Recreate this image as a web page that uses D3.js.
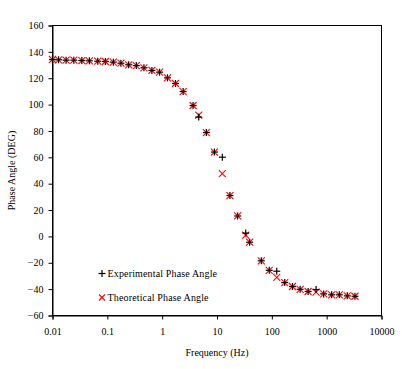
<!DOCTYPE html>
<html>
<head>
<meta charset="utf-8">
<script src="https://cdn.jsdelivr.net/npm/d3@7"></script>
<style>
  body { margin: 0; background: #fff; }
  svg text { font-family: "Liberation Serif", "Times New Roman", serif; font-size: 10px; fill: #000; }
</style>
</head>
<body>
<div id="chart"></div>
<script>
// Frequency (Hz) of each measurement
var freqs = [0.01, 0.0129, 0.0177, 0.0245, 0.0343, 0.047, 0.0669, 0.092, 0.1285, 0.177,
  0.245, 0.337, 0.465, 0.65, 0.897, 1.25, 1.75, 2.41, 3.66, 4.65,
  6.4, 8.97, 12.5, 17.2, 23.8, 33.4, 39.4, 64.2, 89.7, 123,
  172, 238, 328, 459, 641, 882, 1233, 1701, 2378, 3283];

var experimental = [134.2, 134.0, 133.7, 133.7, 133.4, 133.2, 132.9, 132.7, 132.2, 131.4,
  130.2, 129.6, 127.9, 125.9, 124.6, 120.3, 116.0, 109.9, 99.3, 90.5,
  78.8, 64.0, 60.1, 31.0, 15.5, 2.5, -4.4, -18.5, -25.7, -26.4,
  -35.0, -38.0, -40.1, -41.8, -40.3, -43.6, -44.3, -44.3, -45.1, -45.4];

var theoretical = [134.2, 134.0, 133.7, 133.7, 133.4, 133.2, 132.9, 132.7, 132.2, 131.4,
  130.2, 129.6, 127.9, 125.9, 124.6, 120.3, 116.0, 109.9, 99.3, 92.0,
  78.8, 64.0, 47.7, 31.0, 15.5, 1.0, -4.4, -18.5, -25.7, -31.0,
  -35.0, -38.0, -40.1, -41.8, -42.3, -43.6, -44.3, -44.3, -45.1, -45.4];

var xTicks = [0.01, 0.1, 1, 10, 100, 1000, 10000];
var yTicks = [-60, -40, -20, 0, 20, 40, 60, 80, 100, 120, 140, 160];

var margin = { top: 25, right: 21, bottom: 54, left: 52 };
var width = 402 - margin.left - margin.right;
var height = 369 - margin.top - margin.bottom;

var svg = d3.select('#chart')
  .append('svg')
  .attr('width', 402)
  .attr('height', 369)
  .append('g')
  .attr('transform', 'translate(' + (margin.left + 0.5) + ',' + (margin.top + 0.5) + ')');

//Scales
var x = d3.scaleLog()
  .domain([0.01, 10000])
  .range([0, width]);

var y = d3.scaleLinear()
  .domain([-60, 160])
  .range([height, 0]);

//Box around the plot area
svg.append('rect')
  .attr('width', width)
  .attr('height', height)
  .attr('fill', 'none')
  .attr('stroke', '#000')
  .attr('stroke-width', 1);

//Axes
var xAxis = svg.append('g')
  .attr('transform', 'translate(0,' + height + ')')
  .call(d3.axisBottom(x).tickValues(xTicks).tickFormat(function(d) { return String(d); }).tickSize(4).tickPadding(8));

var yAxis = svg.append('g')
  .call(d3.axisLeft(y).tickValues(yTicks).tickSize(4).tickPadding(5));

[xAxis, yAxis].forEach(function(a) {
  a.select('.domain').attr('stroke', '#000');
  a.selectAll('.tick line').attr('stroke', '#000');
  a.selectAll('.tick text')
    .style('font-family', '"Liberation Serif", serif')
    .style('font-size', '10px');
});

//Axis titles
svg.append('text')
  .attr('x', width / 2)
  .attr('y', height + 40)
  .attr('text-anchor', 'middle')
  .text('Frequency (Hz)');

svg.append('text')
  .attr('transform', 'rotate(-90)')
  .attr('x', -height / 2)
  .attr('y', -38)
  .attr('text-anchor', 'middle')
  .text('Phase Angle (DEG)');

//Marker drawing
var plus = function(g, s) {
  g.append('line').attr('x1', -s).attr('x2', s).attr('y1', 0).attr('y2', 0);
  g.append('line').attr('x1', 0).attr('x2', 0).attr('y1', -s).attr('y2', s);
};
var cross = function(g, s) {
  g.append('line').attr('x1', -s).attr('x2', s).attr('y1', -s).attr('y2', s);
  g.append('line').attr('x1', -s).attr('x2', s).attr('y1', s).attr('y2', -s);
};

var theoData = freqs.map(function(f, i) { return { f: f, v: theoretical[i] }; });
var expData = freqs.map(function(f, i) { return { f: f, v: experimental[i] }; });

svg.append('g')
  .attr('stroke', '#ff0000')
  .attr('stroke-width', 1.1)
  .selectAll('g')
  .data(theoData)
  .enter()
  .append('g')
  .attr('transform', function(d) { return 'translate(' + x(d.f) + ',' + y(d.v) + ')'; })
  .each(function() { cross(d3.select(this), 3.5); });

svg.append('g')
  .attr('stroke', '#000')
  .attr('stroke-width', 1.2)
  .selectAll('g')
  .data(expData)
  .enter()
  .append('g')
  .attr('transform', function(d) { return 'translate(' + x(d.f) + ',' + y(d.v) + ')'; })
  .each(function() { plus(d3.select(this), 3.5); });

//Legend
var legendData = [
  { text: 'Experimental Phase Angle', draw: plus, color: '#000', size: 3.5, width: 1.2 },
  { text: 'Theoretical Phase Angle', draw: cross, color: '#ff0000', size: 3, width: 1.1 }
];

var legend = svg.selectAll('.legend')
  .data(legendData)
  .enter()
  .append('g')
  .attr('class', 'legend')
  .attr('transform', function(d, i) { return 'translate(49.5,' + (248 + i * 24) + ')'; });

legend.each(function(d) {
  var g = d3.select(this).append('g')
    .attr('stroke', d.color)
    .attr('stroke-width', d.width);
  d.draw(g, d.size);
});

legend.append('text')
  .attr('x', 5.5)
  .attr('dy', '0.35em')
  .style('letter-spacing', '0.15px')
  .text(function(d) { return d.text; });
</script>
</body>
</html>
